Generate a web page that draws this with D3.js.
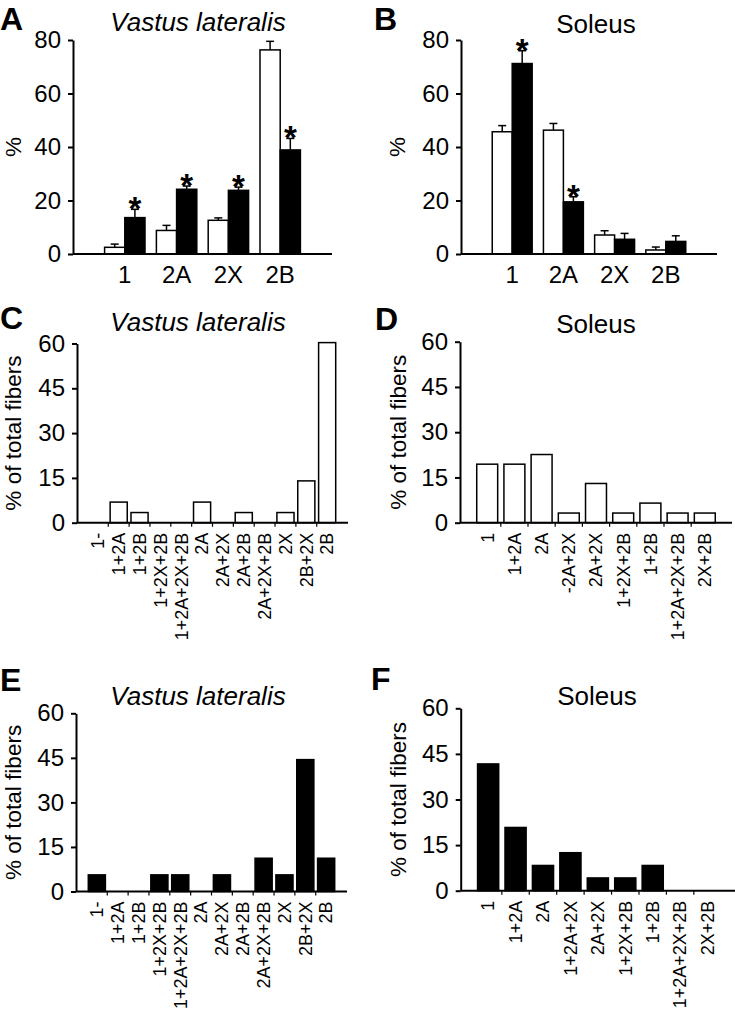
<!DOCTYPE html>
<html>
<head>
<meta charset="utf-8">
<script src="https://cdn.jsdelivr.net/npm/d3@7"></script>
<style>
  body { margin: 0; background: #fff; }
  svg { display: block; font-family: "Liberation Sans", Arial, sans-serif; }
  .axis path, .axis line { stroke: #000; stroke-width: 2; }
  .axis text { fill: #000; }
</style>
</head>
<body>
<svg id="fig" width="735" height="1013"></svg>
<script>
// --- data ---
var mhcCats = ["1", "2A", "2X", "2B"];

// A: vastus lateralis, % MHC isoform
var aWhite = [2.5, 8.8, 12.6, 76.3];
var aWhiteErr = [1.2, 1.9, 0.9, 3.2];
var aBlack = [13.6, 24.2, 23.8, 38.9];
var aBlackErr = [3.1, 1.2, 1.2, 4.3];
var aStar = [true, true, true, true];

// B: soleus
var bWhite = [45.7, 46.3, 7.1, 1.5];
var bWhiteErr = [2.3, 2.5, 1.6, 1.1];
var bBlack = [71.2, 19.5, 5.5, 4.7];
var bBlackErr = [4.8, 1.9, 2.2, 2.1];
var bStar = [true, true, false, false];

// C / E: vastus lateralis fibre types
var vlCats = ["1-", "1+2A", "1+2B", "1+2X+2B", "1+2A+2X+2B", "2A", "2A+2X",
              "2A+2B", "2A+2X+2B", "2X", "2B+2X", "2B"];
var cValues = [0, 6.9, 3.4, 0, 0, 6.9, 0, 3.4, 0, 3.4, 14.0, 60.3];
var eValues = [5.6, 0, 0, 5.6, 5.6, 0, 5.6, 0, 11.2, 5.6, 44.4, 11.2];

// D / F: soleus fibre types
var dCats = ["1", "1+2A", "2A", "-2A+2X", "2A+2X", "1+2X+2B", "1+2B", "1+2A+2X+2B", "2X+2B"];
var dValues = [19.4, 19.4, 22.6, 3.2, 13.0, 3.2, 6.5, 3.2, 3.2];
var fCats = ["1", "1+2A", "2A", "1+2A+2X", "2A+2X", "1+2X+2B", "1+2B", "1+2A+2X+2B", "2X+2B"];
var fValues = [41.7, 20.8, 8.3, 12.5, 4.2, 4.2, 8.3, 0, 0];

var svg = d3.select("#fig");

/**
 * Axes comuns: eixo y com ticks, eixo x simples,
 * letra do painel, titulo e rotulo do eixo y.
 */
function drawFrame(g, p, x, y, yTicks) {
	g.append("g")
		.attr("class", "axis")
		.attr("transform", "translate(" + p.x0 + ",0)")
		.call(d3.axisLeft(y).tickValues(yTicks).tickSize(5).tickSizeOuter(0).tickPadding(7))
		.selectAll("text")
		.style("font-size", "24px");

	g.append("line")
		.attr("x1", p.x0).attr("x2", p.x1)
		.attr("y1", y(0)).attr("y2", y(0))
		.attr("stroke", "#000").attr("stroke-width", 2);

	g.append("text")
		.attr("x", p.lx).attr("y", p.ly)
		.style("font-size", "32px").style("font-weight", "bold")
		.text(p.letter);

	g.append("text")
		.attr("x", p.tx).attr("y", p.ty)
		.attr("text-anchor", "middle")
		.style("font-size", "26px")
		.style("font-style", p.italic ? "italic" : "normal")
		.text(p.title);

	g.append("text")
		.attr("transform", "translate(" + p.yx + "," + (y.range()[0] + y.range()[1]) / 2 + ") rotate(-90)")
		.attr("text-anchor", "middle")
		.attr("dy", "0.35em")
		.style("font-size", "22.5px")
		.text(p.ylabel);
}

function drawGrouped(p, white, whiteErr, black, blackErr, stars) {
	var g = svg.append("g");
	var x = d3.scaleBand().domain(mhcCats).range([p.x0, p.x1]).paddingInner(0).paddingOuter(0.5);
	var y = d3.scaleLinear().domain([0, 80]).range([p.y0, p.y1]);
	var bw = x.step() * 0.39;
	var mid = function(i) { return x(mhcCats[i]) + x.bandwidth() / 2; };

	var series = [
		{ vals: white, err: whiteErr, fill: "#fff", off: -bw },
		{ vals: black, err: blackErr, fill: "#000", off: 0 }
	];

	series.forEach(function(s) {
		s.vals.forEach(function(v, i) {
			var left = mid(i) + s.off;
			var cx = left + bw / 2;
			var top = y(v + s.err[i]);
			// barra de erro (apenas para cima)
			g.append("line")
				.attr("x1", cx).attr("x2", cx)
				.attr("y1", y(v)).attr("y2", top)
				.attr("stroke", "#000").attr("stroke-width", 1.5);
			g.append("line")
				.attr("x1", cx - 4).attr("x2", cx + 4)
				.attr("y1", top).attr("y2", top)
				.attr("stroke", "#000").attr("stroke-width", 1.5);
			g.append("rect")
				.attr("x", left)
				.attr("width", bw)
				.attr("y", y(v))
				.attr("height", y(0) - y(v))
				.attr("fill", s.fill)
				.attr("stroke", "#000").attr("stroke-width", 1.5);
		});
	});

	// asteriscos
	black.forEach(function(v, i) {
		if (!stars[i]) return;
		g.append("text")
			.attr("x", mid(i) + bw / 2)
			.attr("y", y(v + blackErr[i]) + 11)
			.attr("text-anchor", "middle")
			.style("font-size", "33px").style("font-weight", "bold")
			.text("*");
	});

	drawFrame(g, p, x, y, [0, 20, 40, 60, 80]);

	g.selectAll(null).data(mhcCats).enter().append("text")
		.attr("x", function(d) { return x(d) + x.bandwidth() / 2; })
		.attr("y", p.y0 + 29)
		.attr("text-anchor", "middle")
		.style("font-size", "24px")
		.text(function(d) { return d; });
}

function drawSingle(p, cats, values, fill, widthRatio) {
	var g = svg.append("g");
	var x = d3.scaleBand().domain(cats).range([p.x0, p.x1]).paddingInner(0).paddingOuter(0.5);
	var y = d3.scaleLinear().domain([0, 60]).range([p.y0, p.y1]);
	var bw = x.step() * widthRatio;

	values.forEach(function(v, i) {
		if (v <= 0) return;
		g.append("rect")
			.attr("x", x(cats[i]) + (x.step() - bw) / 2)
			.attr("width", bw)
			.attr("y", y(v))
			.attr("height", y(0) - y(v))
			.attr("fill", fill)
			.attr("stroke", "#000").attr("stroke-width", 1.5);
	});

	drawFrame(g, p, x, y, [0, 15, 30, 45, 60]);

	// pequenos ticks entre categorias
	g.selectAll(null).data(cats.slice(1)).enter().append("line")
		.attr("x1", function(d) { return x(d); })
		.attr("x2", function(d) { return x(d); })
		.attr("y1", p.y0).attr("y2", p.y0 + 4)
		.attr("stroke", "#000").attr("stroke-width", 1.2);

	g.selectAll(null).data(cats).enter().append("text")
		.attr("transform", function(d) {
			return "translate(" + (x(d) + x.bandwidth() / 2) + "," + (p.y0 + 10) + ") rotate(-90)";
		})
		.attr("dy", "0.35em")
		.attr("text-anchor", "end")
		.style("font-size", "18px")
		.text(function(d) { return d; });
}

var vlTitle = "Vastus lateralis", solTitle = "Soleus";

drawGrouped({ x0: 73, x1: 332, y0: 254, y1: 40, letter: "A", lx: 0, ly: 30,
	title: vlTitle, italic: true, tx: 198, ty: 31, yx: 13, ylabel: "%" },
	aWhite, aWhiteErr, aBlack, aBlackErr, aStar);
drawGrouped({ x0: 461, x1: 717, y0: 254, y1: 40, letter: "B", lx: 374, ly: 30,
	title: solTitle, italic: false, tx: 596, ty: 33, yx: 397, ylabel: "%" },
	bWhite, bWhiteErr, bBlack, bBlackErr, bStar);

drawSingle({ x0: 77, x1: 348, y0: 522.7, y1: 343.5, letter: "C", lx: 0, ly: 329,
	title: vlTitle, italic: true, tx: 198, ty: 331, yx: 13, ylabel: "% of total fibers" },
	vlCats, cValues, "#fff", 0.82);
drawSingle({ x0: 460, x1: 732, y0: 522.7, y1: 341.7, letter: "D", lx: 375, ly: 330,
	title: solTitle, italic: false, tx: 596, ty: 333, yx: 398, ylabel: "% of total fibers" },
	dCats, dValues, "#fff", 0.77);
drawSingle({ x0: 76, x1: 347, y0: 891.5, y1: 713.3, letter: "E", lx: 0, ly: 691,
	title: vlTitle, italic: true, tx: 198, ty: 705, yx: 13, ylabel: "% of total fibers" },
	vlCats, eValues, "#000", 0.82);
drawSingle({ x0: 460.7, x1: 735, y0: 890.7, y1: 708.3, letter: "F", lx: 371, ly: 690,
	title: solTitle, italic: false, tx: 597, ty: 705, yx: 398, ylabel: "% of total fibers" },
	fCats, fValues, "#000", 0.77);
</script>
</body>
</html>
